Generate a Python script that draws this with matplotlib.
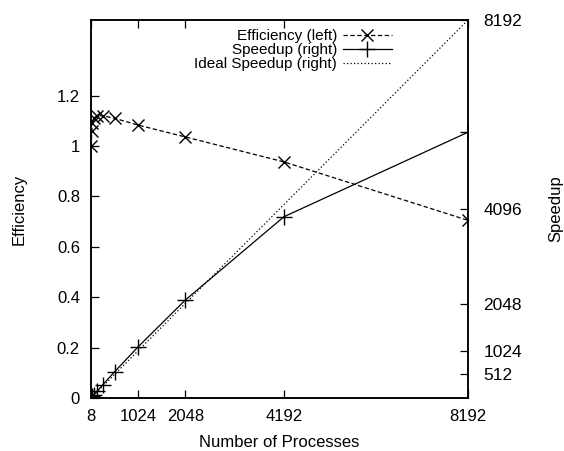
import matplotlib
matplotlib.use("Agg")
import matplotlib.pyplot as plt

plt.rcParams['font.family'] = ['Liberation Sans', 'DejaVu Sans']
plt.rcParams['font.size'] = 12

# data
procs = [8, 16, 32, 64, 128, 256, 512, 1024, 2048, 4192, 8192]
efficiency = [1.0, 1.06, 1.09, 1.11, 1.12, 1.12, 1.11, 1.083, 1.036, 0.937, 0.705]
speedup = [8, 17, 35, 71, 143, 287, 568, 1109, 2122, 3928, 5760]
ideal_x = [0, 8192]
ideal_y = [0, 8192]

xticks = [8, 1024, 2048, 4192, 8192]
yticks = [0, 0.2, 0.4, 0.6, 0.8, 1.0, 1.2]
ylabels = ['0', '0.2', '0.4', '0.6', '0.8', '1', '1.2']
y2ticks = [512, 1024, 2048, 4096, 8192]

fig = plt.figure(figsize=(5.64, 4.51), dpi=100)
ax = fig.add_axes([91/564, 1-398/451, (468-91)/564, (398-20)/451])
ax2 = ax.twinx()

l1, = ax.plot(procs, efficiency, color='black', lw=0.9, ls=(0, (3.5, 2)),
              marker='x', ms=9, mew=1.0, label='Efficiency (left)')
l2, = ax2.plot(procs, speedup, color='black', lw=0.9, ls='-',
               marker='+', ms=11, mew=1.0, label='Speedup (right)')
l3, = ax2.plot(ideal_x, ideal_y, color='black', lw=0.9, ls=(0, (1, 1.8)),
               label='Ideal Speedup (right)')

ax.set_xlim(0, 8192)
ax.set_ylim(0, 1.5)
ax2.set_ylim(0, 8192)

ax.set_xticks(xticks)
ax.set_xticklabels([str(t) for t in xticks])
ax.set_yticks(yticks)
ax.set_yticklabels(ylabels)
ax2.set_yticks(y2ticks)
ax2.set_yticklabels([str(t) for t in y2ticks])

ax.tick_params(axis='x', direction='in', top=True, length=6, width=0.9, pad=8)
ax.tick_params(axis='y', direction='in', right=False, length=6, width=0.9, pad=8)
ax2.tick_params(axis='y', direction='in', length=6, width=0.9, pad=11,
                labelsize=12.5)
for a in (ax, ax2):
    for s in a.spines.values():
        s.set_linewidth(1.1)

ax.set_xlabel('Number of Processes', labelpad=8)
ax.set_ylabel('Efficiency', labelpad=22)
ax2.set_ylabel('Speedup', labelpad=19)

leg = ax2.legend(handles=[l1, l2, l3], loc='upper right', frameon=False,
                 markerfirst=False, handlelength=3.2, labelspacing=0,
                 handletextpad=0.4, borderaxespad=0, fontsize=11,
                 bbox_to_anchor=(398/564, 1-23/451),
                 bbox_transform=fig.transFigure)
for t in leg.get_texts():
    t.set_ha('right')

fig.savefig('out.png', dpi=100)
